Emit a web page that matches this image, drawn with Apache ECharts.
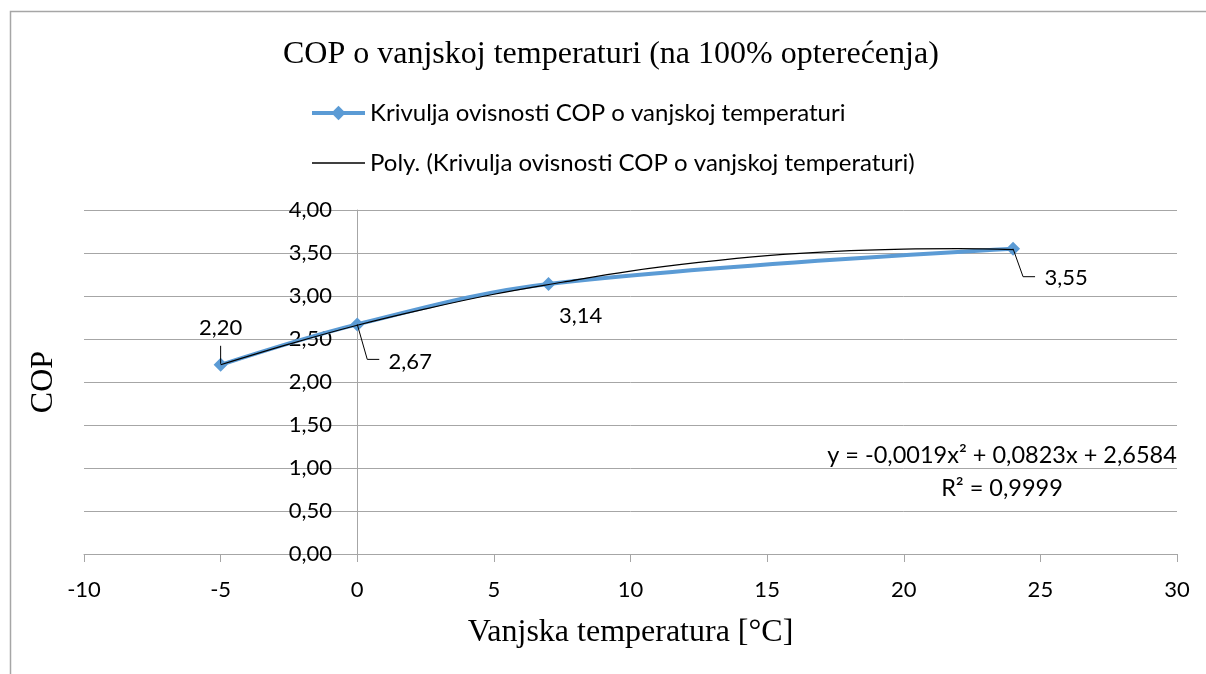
<!DOCTYPE html>
<html>
<head>
<meta charset="utf-8">
<script src="https://cdn.jsdelivr.net/npm/echarts@6/dist/echarts.min.js"></script>
<style>html,body{margin:0;padding:0;background:#fff}#c{width:1206px;height:674px}</style>
</head>
<body>
<div id="c"></div>
<script>
// ---- data ----
const temperatures = [-5, 0, 7, 24];
const copValues = [2.20, 2.67, 3.14, 3.55];
// polynomial trendline
const trendX = [-5, -2.5, 0, 2.5, 5, 7.5, 10, 12.5, 15, 17.5, 20, 22, 24];
const trendY = [2.20, 2.44, 2.66, 2.85, 3.02, 3.16, 3.29, 3.39, 3.47, 3.52, 3.545, 3.55, 3.54];
const xTicks = [-10, -5, 0, 5, 10, 15, 20, 25, 30];
const yTicks = [0, 0.5, 1, 1.5, 2, 2.5, 3, 3.5, 4];
const titleText = 'COP o vanjskoj temperaturi (na 100% opterećenja)';
const seriesName = 'Krivulja ovisnosti COP o vanjskoj temperaturi';
const trendName = 'Poly. (Krivulja ovisnosti COP o vanjskoj temperaturi)';
const xName = 'Vanjska temperatura [°C]';
const yName = 'COP';
const equationText = 'y = -0,0019x² + 0,0823x + 2,6584';
const r2Text = 'R² = 0,9999';

// ---- data-label placement (pixel offsets from each point; style, not data) ----
const labelPlacement = [
  { offset: [0, -37], leader: [[0, -1], [0, -19]] },
  { offset: [53, 38], leader: [[0, 0], [10, 35], [22, 35]] },
  { offset: [32, 32], leader: null },
  { offset: [53, 29], leader: [[0, 0], [10, 28], [22, 28]] }
];

const sansFont = 'Lato';
const serifFont = 'Liberation Serif';
const fmt = v => Number(v).toFixed(2).replace('.', ',');

const pointData = temperatures.map((t, i) => [t, copValues[i]]);
const trendData = trendX.map((x, i) => [x, trendY[i]]);

function renderDataLabel(params, api) {
  const i = params.dataIndex;
  const p = api.coord([api.value(0), api.value(1)]);
  const pl = labelPlacement[i];
  const children = [];
  if (pl.leader) {
    children.push({
      type: 'polyline',
      shape: { points: pl.leader.map(d => [p[0] + d[0], p[1] + d[1]]) },
      style: { stroke: '#000', lineWidth: 1, fill: null }
    });
  }
  children.push({
    type: 'text',
    x: p[0] + pl.offset[0],
    y: p[1] + pl.offset[1],
    style: { text: fmt(api.value(1)), fontFamily: sansFont, fontSize: 22, fill: '#000',
             align: 'center', verticalAlign: 'middle' }
  });
  return { type: 'group', children };
}

const chart = echarts.init(document.getElementById('c'), null, { renderer: 'canvas' });
chart.setOption({
  backgroundColor: '#fff',
  animation: false,
  title: {
    text: titleText,
    left: 278,
    top: 34,
    textStyle: { fontFamily: serifFont, fontSize: 32, fontWeight: 'normal', color: '#000' }
  },
  legend: {
    orient: 'vertical',
    left: 305,
    top: 94,
    itemWidth: 53,
    itemHeight: 18,
    itemGap: 22,
    selectedMode: false,
    textStyle: { fontFamily: sansFont, fontSize: 24, color: '#000', lineHeight: 28 },
    data: [
      { name: seriesName, lineStyle: { width: 4, color: '#5b9bd5' } },
      { name: trendName, itemStyle: { opacity: 0 }, lineStyle: { width: 1.3, color: '#000' } }
    ]
  },
  grid: { left: 84, right: 29, top: 210, bottom: 120, outerBoundsMode: 'none' },
  xAxis: {
    type: 'value',
    min: xTicks[0],
    max: xTicks[xTicks.length - 1],
    interval: 5,
    name: xName,
    nameLocation: 'middle',
    nameGap: 63,
    nameTextStyle: { fontFamily: serifFont, fontSize: 32, color: '#000' },
    axisLine: { show: true, lineStyle: { color: '#a6a6a6', width: 1 } },
    axisTick: { show: true, length: 8, lineStyle: { color: '#a6a6a6' } },
    axisLabel: { margin: 25, fontFamily: sansFont, fontSize: 22, color: '#000' },
    splitLine: { show: false }
  },
  yAxis: {
    type: 'value',
    min: yTicks[0],
    max: yTicks[yTicks.length - 1],
    interval: 0.5,
    name: yName,
    nameLocation: 'middle',
    nameGap: 24,
    nameRotate: 90,
    nameTextStyle: { fontFamily: serifFont, fontSize: 32, color: '#000' },
    axisLine: { show: true, onZero: true, lineStyle: { color: '#a6a6a6', width: 1 } },
    axisTick: { show: false },
    axisLabel: { margin: -248, fontFamily: sansFont, fontSize: 22, color: '#000', formatter: fmt },
    splitLine: { show: true, lineStyle: { color: '#a6a6a6', width: 1 } }
  },
  graphic: [
    { type: 'rect', silent: true, z: -10,
      shape: { x: 10.5, y: 11.5, width: 1400, height: 900 },
      style: { fill: 'none', stroke: '#a6a6a6', lineWidth: 1.5 } },
    { type: 'text', x: 1002, y: 455,
      style: { text: equationText, fontFamily: sansFont, fontSize: 23.5, fill: '#000',
               textAlign: 'center', textVerticalAlign: 'middle' } },
    { type: 'text', x: 1002, y: 488,
      style: { text: r2Text, fontFamily: sansFont, fontSize: 23.5, fill: '#000',
               textAlign: 'center', textVerticalAlign: 'middle' } }
  ],
  series: [
    {
      name: seriesName,
      type: 'line',
      data: pointData,
      smooth: 0.35,
      symbol: 'diamond',
      symbolSize: 14,
      z: 2,
      lineStyle: { color: '#5b9bd5', width: 4 },
      itemStyle: { color: '#5b9bd5' }
    },
    {
      name: trendName,
      type: 'line',
      data: trendData,
      smooth: 0.4,
      symbol: 'none',
      z: 3,
      lineStyle: { color: '#000', width: 1.2 },
      itemStyle: { color: '#000' }
    },
    {
      type: 'custom',
      silent: true,
      z: 4,
      data: pointData,
      encode: { x: 0, y: 1 },
      renderItem: renderDataLabel
    }
  ]
});
</script>
</body>
</html>
